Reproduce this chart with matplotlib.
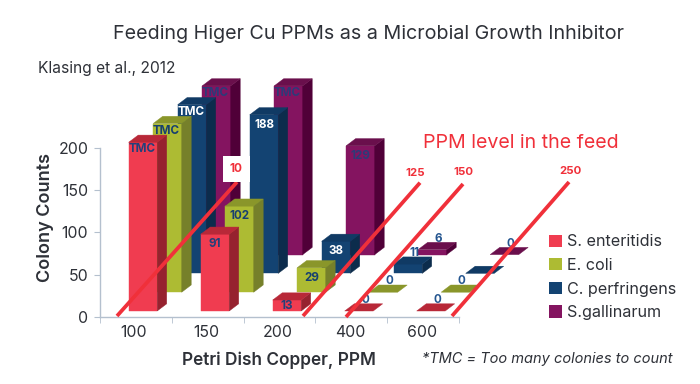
import matplotlib
matplotlib.use("Agg")
import matplotlib.pyplot as plt
from matplotlib.lines import Line2D
from matplotlib.patches import Patch
from matplotlib.transforms import Affine2D

# ---- data ----
doses = ["100", "150", "200", "400", "600"]
series_names = ["S. enteritidis", "E. coli", "C. perfringens", "S.gallinarum"]
enteritidis = [200, 91, 13, 0, 0]
ecoli = [200, 102, 29, 0, 0]
perfringens = [200, 188, 38, 11, 0]
gallinarum = [200, 200, 129, 6, 0]
enteritidis_labels = ["TMC", "91", "13", "0", "0"]
ecoli_labels = ["TMC", "102", "29", "0", "0"]
perfringens_labels = ["TMC", "188", "38", "11", ""]
gallinarum_labels = ["TMC", "TMC", "129", "6", "0"]
feed_levels = ["10", "125", "150", "250"]

# ---- style ----
W, H = 700, 384
FONT = "Inter"
plt.rcParams["font.family"] = [FONT, "DejaVu Sans"]
PXU = 168.7 / 200          # pixels per count
PXX = 72.0                 # pixels per category
BAR_W = 28.5 / PXX
LEFT0 = 29.2 / PXX
DX_SER, DY_SER = 24.5 / PXX, 18.8 / PXU
BASE0 = 5.7 / PXU
DEPTH_X, DEPTH_Y = 9.5 / PXX, 7.2 / PXU
TXT = "#2e3138"
RED = "#f0303a"

styles = [
    dict(front="#f03c50", side="#96222f", top="#b82838", txt="#23407a"),
    dict(front="#adbb33", side="#76802a", top="#8a962a", txt="#17406f"),
    dict(front="#134372", side="#0c2c4c", top="#103a64", txt="#ffffff"),
    dict(front="#841460", side="#500038", top="#6a0f4c", txt="#2d3a78"),
]
all_values = [enteritidis, ecoli, perfringens, gallinarum]
all_labels = [enteritidis_labels, ecoli_labels, perfringens_labels, gallinarum_labels]

fig = plt.figure(figsize=(W / 100, H / 100), dpi=100, facecolor="white")
ax = fig.add_axes([99.5 / W, 1 - 316.7 / H, 360 / W, 168.7 / H])
ax.patch.set_alpha(0)
ax.set_xlim(0, 5)
ax.set_ylim(0, 200)

# back-to-front oblique bars
for s in [3, 2, 1, 0]:
    st = styles[s]
    z = 10 + (3 - s) * 3
    base = BASE0 + s * DY_SER
    for c, (v, lab) in enumerate(zip(all_values[s], all_labels[s])):
        x0 = c + LEFT0 + s * DX_SER
        x1 = x0 + BAR_W
        y1 = base + v
        if v > 0:
            ax.bar(x0, v, BAR_W, bottom=base, align="edge", color=st["front"],
                   edgecolor=st["front"], lw=0.3, clip_on=False, zorder=z)
            ax.fill([x1, x1 + DEPTH_X, x1 + DEPTH_X, x1],
                    [base, base + DEPTH_Y, y1 + DEPTH_Y, y1],
                    facecolor=st["side"], edgecolor=st["side"], lw=0.3,
                    clip_on=False, zorder=z)
        ax.fill([x0, x0 + DEPTH_X, x1 + DEPTH_X, x1],
                [y1, y1 + DEPTH_Y, y1 + DEPTH_Y, y1],
                facecolor=st["top"], edgecolor=st["top"], lw=0.3,
                clip_on=False, zorder=z)
        if not lab:
            continue
        cx = x0 + BAR_W / 2
        if v <= 11:
            tx, ty, col = cx + 6 / PXX, y1 + 11 / PXU, "#24558f"
            tz = z - 1
        elif lab == "TMC":
            tx, ty, col = cx - 1 / PXX, y1 - 7 / PXU, st["txt"]
            tz = z + 1
        elif v < 20:
            tx, ty, col = cx, y1 - 5.5 / PXU, st["txt"]
            tz = z + 1
        else:
            tx, ty, col = cx, y1 - 10 / PXU, st["txt"]
            tz = z + 1
        ax.text(tx, ty, lab, ha="center", va="center", fontsize=8.4,
                fontweight="bold", color=col, zorder=tz, clip_on=False)

# axes furniture
AX_COL = "#b4c0ce"
for sp in ["top", "right"]:
    ax.spines[sp].set_visible(False)
for sp in ["left", "bottom"]:
    ax.spines[sp].set_color(AX_COL)
    ax.spines[sp].set_linewidth(1)
ax.set_xticks([i + 0.48 for i in range(5)])
ax.set_xticklabels(doses, fontsize=11.4, color=TXT)
ax.set_xticks(range(6), minor=True)
ax.tick_params(axis="x", which="major", length=0, pad=6)
ax.tick_params(axis="x", which="minor", length=4, color=AX_COL)
ax.set_yticks([0, 50, 100, 150, 200])
ax.tick_params(axis="y", length=4, color=AX_COL, labelsize=11.4, labelcolor=TXT, pad=4)

# annotation layer in pixel coordinates of the 700x384 picture
px = Affine2D().scale(1 / W, -1 / H).translate(0, 1) + fig.transFigure


def label(x, y, s, **kw):
    kw.setdefault("ha", "center")
    kw.setdefault("va", "center")
    return fig.text(x, y, s, transform=px, **kw)


label(368.5, 34, "Feeding Higer Cu PPMs as a Microbial Growth Inhibitor",
      fontsize=14.2, color=TXT)
label(38, 68, "Klasing et al., 2012", ha="left", fontsize=11.2, color=TXT)
label(45, 218, "Colony Counts", rotation=90, fontsize=13, fontweight="semibold", color=TXT)
label(279, 360, "Petri Dish Copper, PPM", fontsize=12.4, fontweight="semibold", color=TXT)
label(547.5, 359, "*TMC = Too many colonies to count", fontsize=10.5, style="italic", color=TXT)
label(520.5, 143, "PPM level in the feed", fontsize=14.1, color=RED)

for (xa, ya, xb, yb) in [(117, 316, 237, 182), (303, 316, 420, 182.7),
                         (346, 317, 463, 184), (452, 316, 569, 182)]:
    fig.add_artist(Line2D([xa, xb], [ya, yb], transform=px, color=RED, lw=2.7,
                          solid_capstyle="butt"))
box_x, box_y = 236.5, 169
label(box_x, box_y, feed_levels[0], fontsize=8.6, fontweight="bold", color=RED,
      bbox=dict(boxstyle="square,pad=0.55", fc="white", ec="none"))
for txt, x, y in zip(feed_levels[1:], [415, 463, 570], [173, 172, 171]):
    label(x, y, txt, fontsize=8.2, fontweight="bold", color=RED)

handles = [Patch(facecolor=st["front"], edgecolor="none") for st in styles]
fig.legend(handles, series_names, loc="upper left", bbox_to_anchor=(549 / W, 1 - 234.5 / H),
           frameon=False, fontsize=11.6, labelcolor=TXT, handlelength=0.78, handleheight=0.78,
           handletextpad=0.36, labelspacing=0.53, borderpad=0, borderaxespad=0)

fig.savefig("out.png", dpi=100, facecolor="white")
